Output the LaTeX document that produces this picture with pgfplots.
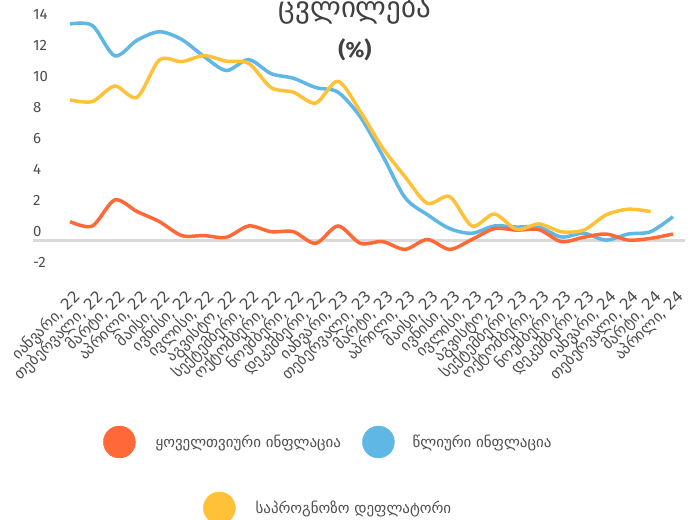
\documentclass[border=0pt]{standalone}
\usepackage{fontspec}
\setmainfont{Fira Sans}
\newfontfamily\geo{DejaVu Sans}
\usepackage{pgfplots}
\pgfplotsset{compat=1.18}
\definecolor{corange}{HTML}{FF6937}
\definecolor{cblue}{HTML}{5EB7E5}
\definecolor{cyellow}{HTML}{FFC137}
\definecolor{cgray}{HTML}{D9D9D9}
\definecolor{ctext}{HTML}{4D4D4D}
\definecolor{ctitle}{HTML}{404040}
\begin{document}
\begin{tikzpicture}[x=1bp,y=1bp]
\begin{axis}[
  at={(33bp,240.25bp)}, anchor=south west,
  scale only axis, width=652bp, height=263.5bp,
  xmin=-1.66, xmax=27.54, ymin=-2.5, ymax=14.5,
  clip=false,
  axis line style={draw=none},
  tick style={draw=none},
  major tick length=0pt,
  ytick={-2,0,2,4,6,8,10,12,14},
  yticklabel style={anchor=base west, inner sep=0pt, yshift=4bp, font=\fontsize{15}{18}\selectfont, text=ctext},
  /pgf/number format/assume math mode=true,
  xtick={0,...,27},
  xticklabels={{იანვარი, 22},{თებერვალი, 22},{მარტი, 22},{აპრილი, 22},{მაისი, 22},{ივნისი, 22},{ივლისი, 22},{აგვისტო, 22},{სექტემბერი, 22},{ოქტომბერი, 22},{ნოემბერი, 22},{დეკემბერი, 22},
  {იანვარი, 23},{თებერვალი, 23},{მარტი, 23},{აპრილი, 23},{მაისი, 23},{ივნისი, 23},{ივლისი, 23},{აგვისტო, 23},{სექტემბერი, 23},{ოქტომბერი, 23},{ნოემბერი, 23},{დეკემბერი, 23},
  {იანვარი, 24},{თებერვალი, 24},{მარტი, 24},{აპრილი, 24}},
  xticklabel style={rotate=45, anchor=east, inner sep=0pt, font=\geo\fontsize{15.5}{18}\selectfont, text=ctext, xshift=-4bp, yshift=-16bp},
  every axis plot/.append style={line width=3.5bp, smooth, no marks},
]
\addplot[cgray, line width=3bp, sharp plot] coordinates {(-1.66,0) (27.54,0)};
\addplot[cblue] coordinates {
(0,14.0) (1,13.9) (2,11.95) (3,12.95) (4,13.5) (5,13.0) (6,11.9) (7,11.0) (8,11.7) (9,10.8) (10,10.5) (11,9.9)
(12,9.6) (13,8.0) (14,5.5) (15,2.8) (16,1.7) (17,0.8) (18,0.5) (19,0.97) (20,0.9) (21,0.9) (22,0.26) (23,0.5)
(24,0.06) (25,0.45) (26,0.6) (27,1.57)};
\addplot[corange] coordinates {
(0,1.25) (1,0.97) (2,2.65) (3,1.9) (4,1.25) (5,0.35) (6,0.35) (7,0.24) (8,0.97) (9,0.6) (10,0.6) (11,-0.15)
(12,0.97) (13,-0.15) (14,-0.04) (15,-0.54) (16,0.1) (17,-0.54) (18,0.1) (19,0.8) (20,0.7) (21,0.73) (22,-0.04) (23,0.24)
(24,0.45) (25,0.06) (26,0.17) (27,0.45)};
\addplot[cyellow] coordinates {
(0,9.1) (1,9.0) (2,10.0) (3,9.27) (4,11.68) (5,11.57) (6,11.96) (7,11.6) (8,11.46) (9,9.9) (10,9.6) (11,8.9)
(12,10.3) (13,8.35) (14,6.0) (15,4.15) (16,2.43) (17,2.86) (18,0.97) (19,1.74) (20,0.75) (21,1.1) (22,0.6) (23,0.7)
(24,1.68) (25,2.05) (26,1.9)};
\end{axis}
% legends
\begin{axis}[at={(0,0)}, anchor=south west, scale only axis, width=695bp, height=520bp, hide axis, xmin=0,xmax=1,ymin=0,ymax=1,
  legend style={at={(0.1482,0.15)}, anchor=west, draw=none, fill=none, inner sep=0pt, column sep=0pt, nodes={inner sep=0pt}, font=\geo\fontsize{15}{17}\selectfont, text=ctext},
  legend image code/.code={\fill[#1] (16bp,0bp) circle (16bp); \path (52bp,0bp);}]
\addlegendimage{corange}
\addlegendentry{ყოველთვიური ინფლაცია}
\end{axis}
\begin{axis}[at={(0,0)}, anchor=south west, scale only axis, width=695bp, height=520bp, hide axis, xmin=0,xmax=1,ymin=0,ymax=1,
  legend style={at={(0.5209,0.15)}, anchor=west, draw=none, fill=none, inner sep=0pt, column sep=0pt, nodes={inner sep=0pt}, font=\geo\fontsize{15}{17}\selectfont, text=ctext},
  legend image code/.code={\fill[#1] (16bp,0bp) circle (16bp); \path (50bp,0bp);}]
\addlegendimage{cblue}
\addlegendentry{წლიური ინფლაცია}
\end{axis}
\begin{axis}[at={(0,0)}, anchor=south west, scale only axis, width=695bp, height=520bp, hide axis, xmin=0,xmax=1,ymin=0,ymax=1,
  legend style={at={(0.2921,0.0231)}, anchor=west, draw=none, fill=none, inner sep=0pt, column sep=0pt, nodes={inner sep=0pt}, font=\geo\fontsize{15}{17}\selectfont, text=ctext},
  legend image code/.code={\fill[#1] (16bp,0bp) circle (16bp); \path (52bp,0bp);}]
\addlegendimage{cyellow}
\addlegendentry{საპროგნოზო დეფლატორი}
\end{axis}
\node[anchor=base, text=ctitle, font=\geo\fontsize{29}{32}\selectfont] at (355bp,502bp) {ცვლილება};
\node[anchor=center, text=ctitle, font=\bfseries\fontsize{22}{26}\selectfont] at (355bp,470.5bp) {(\%)};
\pgfresetboundingbox
\path[use as bounding box] (0,0) rectangle (695bp,520bp);
\end{tikzpicture}
\end{document}
